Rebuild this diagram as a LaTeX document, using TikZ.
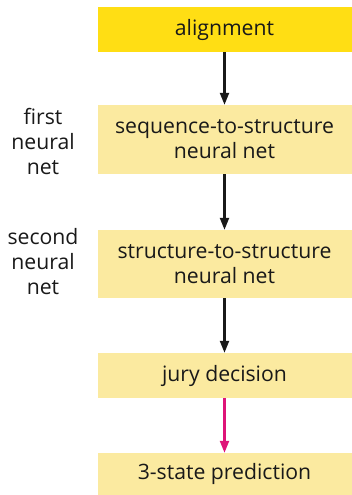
\documentclass[tikz,border=0pt]{standalone}
\usepackage{fontspec}
\setmainfont{Open Sans}
\usepackage{tikz}
\usetikzlibrary{arrows.meta,positioning}
\definecolor{brightyellow}{RGB}{255,222,20}
\definecolor{paleyellow}{RGB}{251,234,160}
\definecolor{juryarrow}{RGB}{222,20,120}
\definecolor{inkblack}{RGB}{25,25,25}

\begin{document}
\begin{tikzpicture}[x=1pt,y=-1pt,
    stagebox/.style={fill=paleyellow, minimum width=254pt, inner sep=0pt,
        align=center, font=\fontsize{21.2}{25}\selectfont, text=inkblack},
    sidelabel/.style={align=center, font=\fontsize{21.2}{25}\selectfont, text=inkblack},
    flow/.style={-{Triangle[width=9pt,length=12pt]}, line width=2.2pt, inkblack}]
    \useasboundingbox (0,0) rectangle (351,495);

    % Stages of the prediction
    \node[stagebox, fill=brightyellow, minimum height=45pt] (align) at (224.5,29.5) {alignment};
    \node[stagebox, minimum height=69pt] (seqnet) at (224.5,139.5) {sequence-to-structure\\neural net};
    \node[stagebox, minimum height=68pt] (strnet) at (224.5,264) {structure-to-structure\\neural net};
    \node[stagebox, minimum height=45pt] (jury) at (224.5,375.5) {jury decision};
    \node[stagebox, minimum height=42pt] (pred) at (224.5,474) {3-state prediction};

    % Side labels
    \node[sidelabel] (firstnet) at (43,141) {first\\neural\\net};
    \node[sidelabel] (secondnet) at (43,262) {second\\neural\\net};

    % Arrows
    \draw[flow] (align) -- (seqnet);
    \draw[flow] (seqnet) -- (strnet);
    \draw[flow] (strnet) -- (jury);
    \draw[flow, juryarrow] (jury) -- (pred);
\end{tikzpicture}
\end{document}
